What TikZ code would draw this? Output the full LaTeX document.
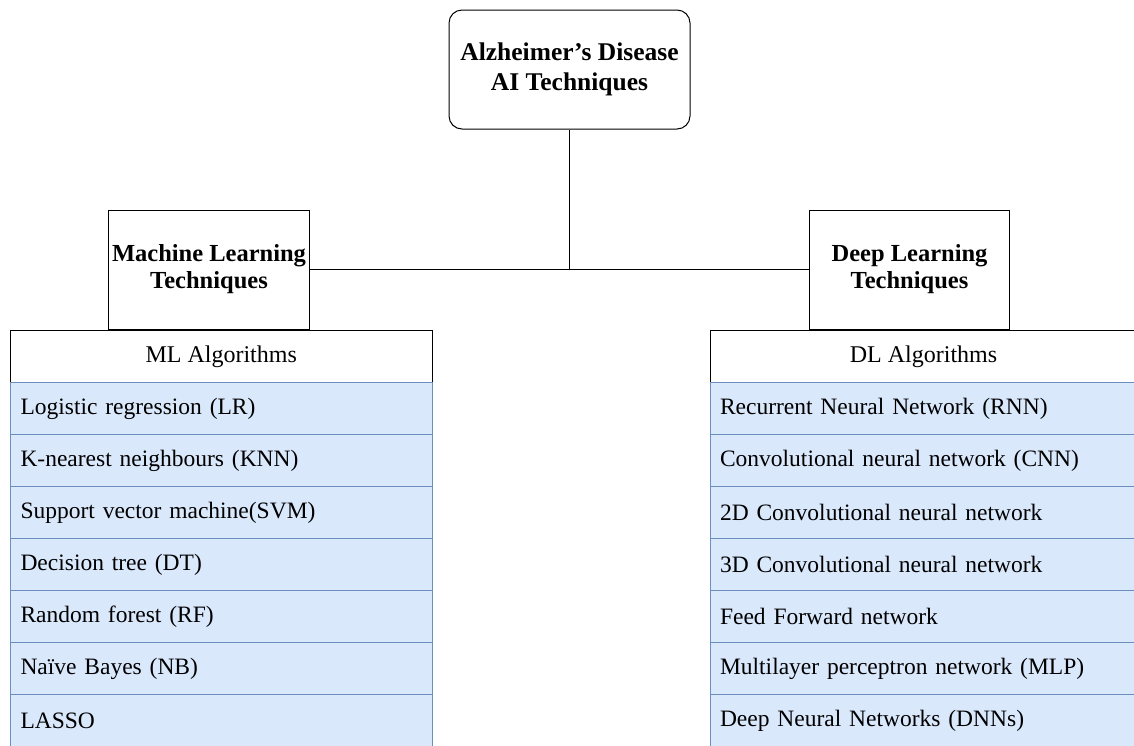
\documentclass[tikz,border=0pt]{standalone}
\usepackage{fontspec}
\setmainfont{Liberation Serif}
\usetikzlibrary{positioning}

\definecolor{itemfill}{HTML}{DAE8FC}
\definecolor{itemline}{HTML}{6C8EBF}

\tikzset{
  mainbox/.style={draw, line width=1pt, rounded corners=13pt, minimum width=241pt, minimum height=119pt, align=center, font=\fontsize{25.5}{30}\selectfont\bfseries},
  techbox/.style={draw, line width=1pt, minimum width=200pt, minimum height=119pt, align=center, font=\fontsize{24.5}{27}\selectfont\bfseries},
  headbox/.style={draw, line width=1pt, fill=white, minimum height=52pt, anchor=north west, font=\fontsize{24}{26}\selectfont},
  itembox/.style={draw=itemline, line width=1pt, fill=itemfill, minimum height=52pt, anchor=north west, align=left, inner xsep=10pt, font=\fontsize{23.5}{26}\selectfont}
}

\begin{document}
\begin{tikzpicture}[x=1pt,y=1pt]
  \useasboundingbox (0,0) rectangle (1134,-745);

  % Nodo principale
  \node[mainbox] (ad) at (569.5,-69.5) {Alzheimer's Disease\\AI Techniques};

  % Tecniche
  \node[techbox] (mlt) at (209,-269.5) {Machine Learning\\Techniques};
  \node[techbox] (dlt) at (909.5,-269.5) {Deep Learning\\Techniques};

  % Collegamenti
  \draw[line width=1pt] (ad.south) -- (ad.south |- mlt.east);
  \draw[line width=1pt] (mlt.east) -- (dlt.west);

  % Intestazioni degli algoritmi
  \node[headbox, minimum width=421.5pt] (mlhead) at (10,-330) {ML Algorithms};
  \node[headbox, minimum width=427pt] (dlhead) at (709.5,-330) {DL Algorithms};

  % Elenco ML
  \foreach \name [count=\i] in {Logistic regression (LR), K-nearest neighbours (KNN),
      Support vector machine(SVM), Decision tree (DT), Random forest (RF),
      Naïve Bayes (NB), LASSO}
    \node[itembox, text width=401.5pt] (ml\i) at (10,{-382-52*(\i-1)}) {\name};

  % Elenco DL
  \foreach \name [count=\i] in {Recurrent Neural Network (RNN), Convolutional neural network (CNN),
      2D Convolutional neural network, 3D Convolutional neural network, Feed Forward network,
      Multilayer perceptron network (MLP), Deep Neural Networks (DNNs)}
    \node[itembox, text width=407pt] (dl\i) at (709.5,{-382-52*(\i-1)}) {\name};
\end{tikzpicture}
\end{document}
